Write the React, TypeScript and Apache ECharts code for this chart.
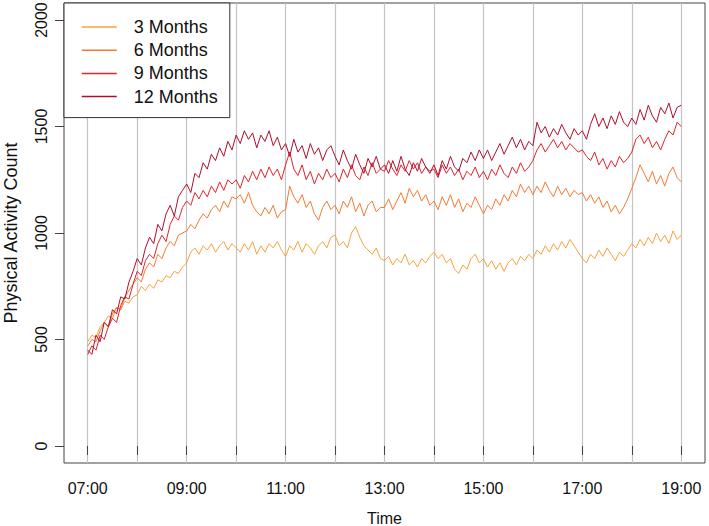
import React, { useEffect, useRef } from "react";
import * as echarts from "echarts";

// Sampling: one value every 5 minutes from 07:00 to 19:00
const startHour = 7;
const stepMinutes = 5;

const seriesNames = ["3 Months", "6 Months", "9 Months", "12 Months"];
const seriesColors = ["#F8A23C", "#F27A33", "#E2232A", "#AE0E2C"];

const months3 = [
  490, 520, 510, 560, 580, 610, 600, 650, 640, 680, 670, 700,
  710, 750, 730, 760, 740, 780, 770, 800, 790, 820, 810, 840,
  860, 910, 930, 900, 940, 920, 950, 910, 940, 960, 920, 950,
  930, 910, 950, 920, 960, 900, 940, 910, 950, 930, 960, 920,
  890, 940, 920, 960, 910, 950, 930, 900, 940, 960, 930, 980,
  990, 940, 960, 930, 1000, 1030, 980, 940, 920, 900, 930, 880,
  870, 890, 850, 880, 860, 900, 850, 870, 840, 880, 860, 890,
  910, 880, 900, 860, 880, 830, 810, 850, 830, 880, 900, 860,
  880, 840, 870, 830, 860, 820, 860, 880, 850, 890, 870, 900,
  880, 920, 900, 940, 910, 950, 920, 960, 930, 970, 940, 910,
  880, 860, 900, 880, 920, 890, 930, 900, 870, 910, 890, 920,
  950, 930, 970, 940, 980, 950, 1000, 960, 990, 950, 1010, 970,
  990,
];

const months6 = [
  470, 500, 490, 540, 580, 560, 620, 650, 640, 700, 730, 760,
  790, 770, 830, 860, 840, 900, 880, 930, 960, 940, 990, 1000,
  1010, 1040, 1020, 1060, 1090, 1070, 1110, 1130, 1100, 1150, 1120, 1170,
  1160, 1180, 1140, 1190, 1130, 1100, 1080, 1120, 1090, 1130, 1070, 1100,
  1110, 1220, 1170, 1140, 1180, 1120, 1150, 1090, 1060, 1120, 1150, 1110,
  1130, 1090, 1150, 1120, 1170, 1100, 1140, 1080, 1130, 1150, 1100, 1120,
  1120, 1160, 1110, 1150, 1190, 1140, 1210, 1170, 1200, 1150, 1180, 1130,
  1150, 1110, 1170, 1130, 1180, 1120, 1160, 1100, 1140, 1120, 1170, 1130,
  1090, 1130, 1110, 1160, 1130, 1180, 1150, 1200, 1170, 1230, 1190, 1220,
  1180, 1220, 1190, 1240, 1200, 1170, 1220, 1180, 1210, 1170, 1200, 1180,
  1190, 1150, 1180, 1140, 1170, 1120, 1150, 1100, 1130, 1090, 1120, 1160,
  1210, 1260, 1320, 1280, 1240, 1290, 1230, 1270, 1220, 1280, 1310, 1260,
  1240,
];

const months9 = [
  430, 470, 450, 520, 500, 560, 600, 580, 660, 700, 690, 760,
  820, 800, 870, 900, 880, 950, 990, 960, 1040, 1080, 1060, 1120,
  1150, 1130, 1190, 1160, 1200, 1170, 1220, 1190, 1240, 1200, 1250, 1230,
  1250, 1210, 1270, 1240, 1290, 1250, 1300, 1260, 1310, 1270, 1300, 1250,
  1320, 1380, 1300, 1270, 1320, 1250, 1290, 1230, 1280, 1250, 1300, 1260,
  1280, 1240, 1300, 1260, 1320, 1270, 1250, 1310, 1270, 1330, 1280, 1300,
  1290, 1340, 1300, 1270, 1320, 1290, 1340, 1300, 1330, 1280, 1310, 1290,
  1300, 1260, 1320, 1280, 1310, 1270, 1300, 1250, 1290, 1270, 1310, 1260,
  1290, 1250, 1300, 1270, 1320, 1280, 1260, 1310, 1280, 1330, 1290, 1310,
  1340, 1390, 1420, 1380, 1410, 1440, 1400, 1430, 1390, 1420, 1400, 1380,
  1390, 1360, 1340, 1380, 1320, 1350, 1300, 1340, 1310, 1360, 1330, 1350,
  1380, 1440, 1460, 1420, 1450, 1400, 1430, 1390, 1440, 1480, 1460, 1520,
  1500,
];

const months12 = [
  450, 430, 520, 490, 580, 560, 640, 620, 700, 690, 770, 820,
  880, 850, 930, 980, 950, 1040, 1010, 1090, 1130, 1080, 1170, 1200,
  1230, 1190, 1280, 1260, 1330, 1300, 1370, 1340, 1400, 1360, 1430, 1390,
  1460, 1420, 1480, 1440, 1470, 1400, 1460, 1430, 1480, 1410, 1450, 1390,
  1420, 1360, 1440, 1380, 1410, 1350, 1420, 1370, 1400, 1340, 1390, 1410,
  1360, 1320, 1390, 1340, 1300, 1370, 1320, 1280, 1350, 1310, 1360, 1300,
  1320, 1280, 1340, 1290, 1360, 1300, 1270, 1330, 1290, 1350, 1310, 1280,
  1320, 1270, 1340, 1300, 1360, 1310, 1290, 1350, 1330, 1380, 1340, 1390,
  1350, 1390, 1340, 1380, 1420, 1370, 1410, 1450, 1400, 1440, 1390, 1430,
  1410, 1520, 1470, 1500, 1450, 1490, 1460, 1510, 1470, 1440, 1490, 1460,
  1480, 1440, 1510, 1560, 1500, 1540, 1490, 1550, 1510, 1570, 1520, 1500,
  1540, 1510, 1580, 1530, 1600, 1550, 1520, 1590, 1560, 1610, 1540, 1590,
  1600,
];

const seriesValues = [months3, months6, months9, months12];

const xTickHours = [7, 8, 9, 10, 11, 12, 13, 14, 15, 16, 17, 18, 19];
const xLabelHours = [7, 9, 11, 13, 15, 17, 19];
const yTicks = [0, 500, 1000, 1500, 2000];

const FONT = "'Liberation Sans', Arial, Helvetica, sans-serif";

export default function App() {
  const ref = useRef<HTMLDivElement>(null);

  useEffect(() => {
    if (!ref.current) return;
    const chart = echarts.init(ref.current, null, { renderer: "svg" });

    const series = seriesValues.map((vals, si) => ({
      name: seriesNames[si],
      type: "line",
      symbol: "none",
      showSymbol: false,
      z: 2 + si,
      lineStyle: { color: seriesColors[si], width: 1 },
      itemStyle: { color: seriesColors[si] },
      data: vals.map((v, i) => [startHour + (i * stepMinutes) / 60, v]),
    }));

    chart.setOption({
      animation: false,
      backgroundColor: "#ffffff",
      textStyle: { fontFamily: FONT },
      grid: {
        left: 64,
        right: 4,
        top: 3,
        bottom: 63,
        containLabel: false,
        outerBoundsMode: "none",
        show: true,
        borderColor: "#444",
        borderWidth: 1,
        backgroundColor: "transparent",
      },
      legend: {
        left: 64,
        top: 3,
        orient: "vertical",
        backgroundColor: "#ffffff",
        borderColor: "#333",
        borderWidth: 1,
        borderRadius: 0,
        padding: [15, 12, 12, 17],
        itemWidth: 35,
        itemHeight: 20,
        itemGap: 5.2,
        itemStyle: { opacity: 0 },
        lineStyle: { width: 1.5 },
        textStyle: {
          fontFamily: FONT,
          fontSize: 18,
          color: "#111",
          padding: [0, 0, 0, 12],
        },
        data: seriesNames,
      },
      xAxis: {
        type: "value",
        min: 6.52,
        max: 19.48,
        name: "Time",
        nameLocation: "middle",
        nameGap: 47,
        nameTextStyle: { fontFamily: FONT, fontSize: 16, color: "#111" },
        axisLine: { show: false },
        axisTick: {
          show: true,
          inside: false,
          length: 9,
          customValues: xTickHours,
          lineStyle: { color: "#444", width: 1 },
        },
        axisLabel: {
          show: true,
          customValues: xLabelHours,
          margin: 17,
          fontFamily: FONT,
          fontSize: 16,
          color: "#111",
          formatter: (v: number) => `${String(Math.round(v)).padStart(2, "0")}:00`,
        },
        splitLine: {
          show: true,
          lineStyle: { color: "#c4c4c4", width: 1.2 },
        },
      },
      yAxis: {
        type: "value",
        min: -80,
        max: 2080,
        name: "Physical Activity Count",
        nameLocation: "middle",
        nameRotate: 90,
        nameGap: 44,
        nameTextStyle: { fontFamily: FONT, fontSize: 18, color: "#111" },
        axisLine: { show: false },
        axisTick: {
          show: true,
          inside: false,
          length: 9,
          customValues: yTicks,
          lineStyle: { color: "#444", width: 1 },
        },
        axisLabel: {
          show: true,
          customValues: yTicks,
          rotate: 90,
          margin: 15,
          fontFamily: FONT,
          fontSize: 16,
          color: "#111",
          formatter: (v: number) => String(Math.round(v)),
        },
        splitLine: { show: false },
      },
      series,
    });

    return () => chart.dispose();
  }, []);

  return (
    <div
      ref={ref}
      style={{ position: "absolute", left: 0, top: 0, width: 709, height: 526 }}
    />
  );
}
